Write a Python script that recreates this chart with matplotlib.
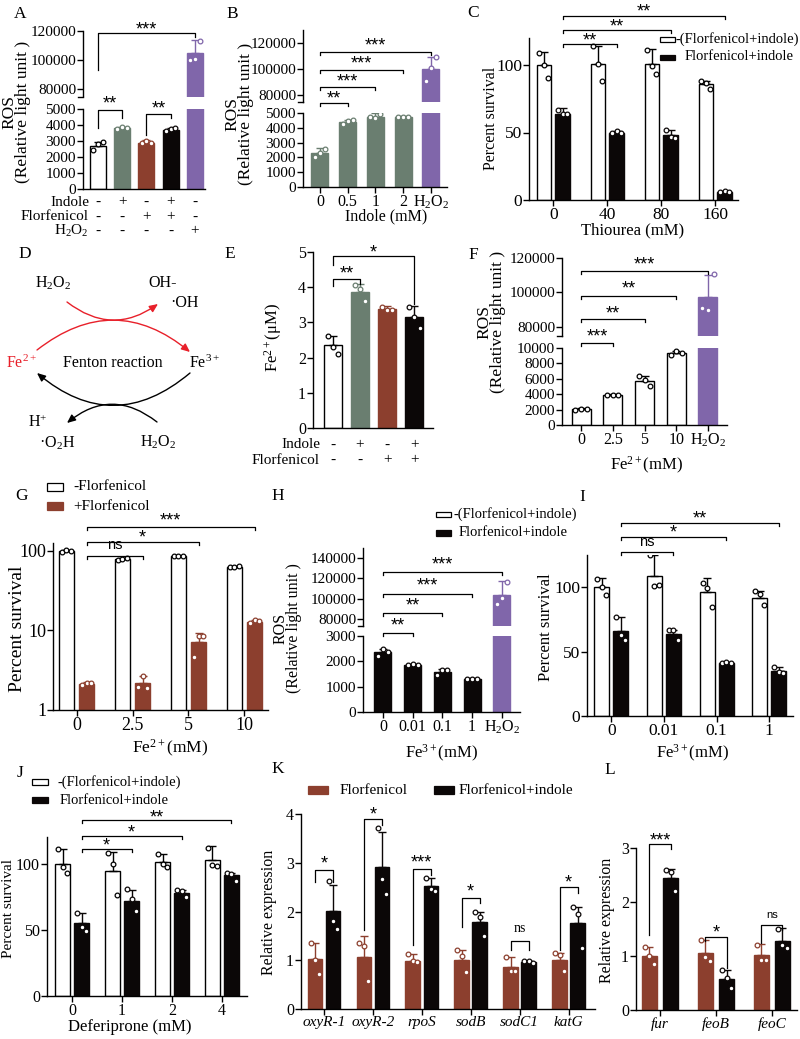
import numpy as np
import matplotlib
matplotlib.use("Agg")
import matplotlib.pyplot as plt
from matplotlib import transforms as mtrans
from matplotlib.patches import FancyArrowPatch, Rectangle
from matplotlib.lines import Line2D
from matplotlib.ticker import NullLocator

# ---------------- colours ----------------
GREEN = '#6a7e70'
BROWN = '#8c3f2e'
PURPLE = '#8066aa'
BLACK = '#0b0707'
RED = '#e8202a'

# ---------------- data ----------------
# A
A_indole = ['-', '+', '-', '+', '-']
A_flor = ['-', '-', '+', '+', '-']
A_h2o2 = ['-', '-', '-', '-', '+']
A_vals = [2700, 3800, 2900, 3700, 104700]
A_err = [2950, 3860, 3060, 3790, 114000]
A_pts = [[2450, 2800, 2950], [3780, 3850, 3830], [2850, 3000, 2880],
         [3650, 3750, 3790], [100000, 101000, 113000]]
# B
B_labels = ['0', '0.5', '1', '2', 'H$_2$O$_2$']
B_vals = [2300, 4400, 4750, 4700, 100000]
B_err = [2650, 4550, 4980, 4780, 109000]
B_pts = [[2050, 2300, 2600], [4250, 4450, 4500], [4700, 4650, 4950],
         [4700, 4750, 4720], [91000, 101000, 109000]]
# C
C_labels = ['0', '40', '80', '160']
C_ctrl = [100, 101, 101, 86]
C_ctrl_err = [110, 114, 112, 88]
C_ctrl_pts = [[109, 100, 90], [114, 101, 88], [111, 99, 93], [88, 87, 82]]
C_trt = [64, 50, 48, 6]
C_trt_err = [68, 51, 52, 7]
C_trt_pts = [[67, 64, 64], [50, 51, 50], [52, 47, 46], [6, 7, 6]]
# E
E_indole = ['-', '+', '-', '+']
E_flor = ['-', '-', '+', '+']
E_vals = [2.35, 3.85, 3.38, 3.15]
E_err = [2.62, 4.1, 3.46, 3.46]
E_pts = [[2.6, 2.3, 2.1], [4.05, 3.95, 3.6], [3.45, 3.35, 3.35], [3.45, 3.15, 2.85]]
# F
F_labels = ['0', '2.5', '5', '10', 'H$_2$O$_2$']
F_vals = [2050, 3900, 5700, 9300, 97500]
F_err = [2150, 4000, 6400, 9650, 110000]
F_pts = [[2000, 2100, 2050], [3850, 3950, 3900], [6300, 5800, 5000],
         [9100, 9600, 9300], [91000, 90000, 111000]]
# G
G_labels = ['0', '2.5', '5', '10']
G_ctrl = [100, 80, 86, 63]
G_ctrl_err = [103, 81, 87, 64]
G_ctrl_pts = [[97, 103, 100], [78, 80, 81], [86, 87, 86], [63, 63, 64]]
G_trt = [2.15, 2.2, 7.2, 12.8]
G_trt_err = [2.25, 2.7, 9.3, 13.6]
G_trt_pts = [[2.05, 2.2, 2.2], [1.95, 2.7, 1.9], [4.6, 8.5, 8.5], [12.4, 13.5, 13.0]]
# H
H_labels = ['0', '0.01', '0.1', '1', 'H$_2$O$_2$']
H_vals = [2350, 1870, 1580, 1300, 103500]
H_err = [2480, 1910, 1700, 1330, 117000]
H_pts = [[2200, 2500, 2350], [1850, 1900, 1870], [1450, 1650, 1650],
         [1300, 1320, 1290], [94500, 100500, 116000]]
# I
I_labels = ['0', '0.01', '0.1', '1']
I_ctrl = [100, 109, 96, 92]
I_ctrl_err = [107, 125, 107, 97]
I_ctrl_pts = [[106, 100, 94], [125, 101, 102], [103, 99, 85], [97, 95, 86]]
I_trt = [66, 64, 41, 35]
I_trt_err = [77, 67, 42, 38]
I_trt_pts = [[77, 63, 59], [67, 67, 59], [41, 42, 41], [38, 34, 33]]
# J
J_labels = ['0', '1', '2', '4']
J_ctrl = [100, 94, 101, 103]
J_ctrl_err = [111, 109, 107, 113]
J_ctrl_pts = [[111, 97, 93], [108, 100, 76], [107, 100, 97], [112, 99, 98]]
J_trt = [55, 72, 78, 91]
J_trt_err = [63, 80, 80, 93]
J_trt_pts = [[63, 52, 49], [81, 73, 64], [80, 79, 75], [93, 92, 87]]
# K
K_genes = ['oxyR-1', 'oxyR-2', 'rpoS', 'sodB', 'sodC1', 'katG']
K_flor = [1.03, 1.07, 0.99, 1.01, 0.87, 1.0]
K_flor_err = [1.36, 1.5, 1.13, 1.22, 1.06, 1.15]
K_flor_pts = [[1.36, 1.0, 0.72], [1.35, 1.3, 0.57], [1.13, 0.98, 0.97],
              [1.22, 1.08, 0.75], [1.06, 0.77, 0.78], [1.15, 1.1, 0.77]]
K_ind = [2.02, 2.91, 2.52, 1.79, 0.96, 1.76]
K_ind_err = [2.55, 3.63, 2.68, 2.0, 0.99, 2.1]
K_ind_pts = [[2.62, 1.8, 1.65], [3.72, 2.66, 2.35], [2.68, 2.47, 2.42],
             [2.0, 1.88, 1.5], [0.98, 0.98, 0.94], [2.1, 1.95, 1.25]]
# L
L_genes = ['fur', 'feoB', 'feoC']
L_flor = [1.0, 1.06, 1.01]
L_flor_err = [1.17, 1.3, 1.22]
L_flor_pts = [[1.17, 1.0, 0.85], [1.3, 0.98, 0.9], [1.2, 0.92, 0.92]]
L_ind = [2.45, 0.58, 1.27]
L_ind_err = [2.62, 0.75, 1.52]
L_ind_pts = [[2.6, 2.55, 2.2], [0.75, 0.6, 0.4], [1.5, 1.2, 1.15]]

# ---------------- figure ----------------
W, H = 800, 1039
plt.rcParams.update({
    'font.family': ['Liberation Serif', 'DejaVu Serif'],
    'mathtext.fontset': 'custom',
    'mathtext.rm': 'Liberation Serif',
    'mathtext.it': 'Liberation Serif:italic',
    'mathtext.bf': 'Liberation Serif:bold',
    'axes.linewidth': 1.0,
})
SANS = 'Liberation Sans'
SERIF = 'Liberation Serif'
fig = plt.figure(figsize=(W / 100, H / 100), dpi=100)
fig.patch.set_facecolor('white')
ov = fig.add_axes([0, 0, 1, 1])
ov.set_xlim(0, W)
ov.set_ylim(H, 0)
ov.axis('off')
ov.set_zorder(10)


def px_axes(l, t, r, b):
    return fig.add_axes([l / W, 1 - b / H, (r - l) / W, (b - t) / H])


def style(ax, fs):
    ax.spines['top'].set_visible(False)
    ax.spines['right'].set_visible(False)
    ax.tick_params(axis='both', direction='out', length=4, width=1.0,
                   labelsize=fs, pad=1.0, colors='black')
    ax.patch.set_alpha(0)
    for lbl in ax.get_xticklabels() + ax.get_yticklabels():
        lbl.set_family(SERIF)


def yt(ax, ticks):
    ax.set_yticks(ticks)
    ax.set_yticklabels([str(int(t)) for t in ticks], family=SERIF)


def draw_bars(ax, xs, vals, errs, pts, faces, edges, width, ms=3.4):
    for x, v, e, p, fc, ec in zip(xs, vals, errs, pts, faces, edges):
        ax.bar(x, v, width, color=fc, edgecolor=ec, linewidth=1.0, zorder=2)
        ax.errorbar([x], [v], yerr=[[0], [e - v]], fmt='none', ecolor=ec,
                    elinewidth=1.0, capsize=3, capthick=1.0, zorder=3)
        offs = np.linspace(-0.3, 0.3, len(p)) * width
        ax.plot(x + offs, p, 'o', ms=ms, mfc='white', mec=ec, mew=0.9,
                zorder=4, ls='none')


def T(x, y, s, fs=11, ha='center', va='center', **kw):
    ov.text(x, y, s, fontsize=fs, ha=ha, va=va, **kw)


def sig(ax, x1, x2, y, text, tc, l1=None, l2=None, fs=13, leg=3, fam=SANS):
    tr = mtrans.blended_transform_factory(ax.transData, ov.transData)
    ya = y + leg if l1 is None else l1
    yb = y + leg if l2 is None else l2
    fig.add_artist(Line2D([x1, x1, x2, x2], [ya, y, y, yb], transform=tr,
                          color='black', lw=0.9))
    em = fs * 100 / 72
    k = 0.26 if text == 'ns' else 0.58
    ov.text((x1 + x2) / 2, tc + k * em, text, transform=tr, fontsize=fs,
            family=fam, ha='center', va='baseline')


def stub(x, y):
    ov.plot([x - 5, x], [y, y], color='black', lw=1.0)


def leg_item(x, y, fc, ec, label, tx, w=15, h=6, fs=10.5):
    ov.add_patch(Rectangle((x - w / 2, y - h / 2), w, h, facecolor=fc,
                           edgecolor=ec, lw=0.9))
    T(tx, y, label, fs=fs, ha='left')


def table(ax, xs, rows, right, fs=11):
    tr = mtrans.blended_transform_factory(ax.transData, ov.transData)
    for ry, name, marks in rows:
        T(right, ry, name, fs=fs, ha='right')
        for xi, m in zip(xs, marks):
            ov.text(xi, ry, m, transform=tr, fontsize=fs, ha='center', va='center')


def ros_label(x, y, fs):
    T(x, y, 'ROS\n(Relative light unit )', fs=fs, rotation=90,
      linespacing=0.78, multialignment='center')


# ---------------- A ----------------
xA = np.arange(len(A_vals))
A_face = ['white', GREEN, BROWN, BLACK, PURPLE]
A_edge = ['black', GREEN, BROWN, BLACK, PURPLE]
aU = px_axes(83, 31, 205, 96.5)
aL = px_axes(83, 109, 205, 189)
for ax in (aU, aL):
    draw_bars(ax, xA, A_vals, A_err, A_pts, A_face, A_edge, 0.66)
    ax.set_xlim(-0.62, 4.42)
    ax.set_xticks([])
aU.set_ylim(75000, 120000)
yt(aU, [80000, 100000, 120000])
aU.spines['bottom'].set_visible(False)
aL.set_ylim(0, 5000)
yt(aL, range(0, 5001, 1000))
for ax in (aU, aL):
    style(ax, 11)
stub(83, 96.5)
table(aL, xA, [(202, 'Indole', A_indole), (217, 'Florfenicol', A_flor),
               (231, 'H$_2$O$_2$', A_h2o2)], 89)
ros_label(16, 112, 12.5)
sig(aL, 0, 4, 33, '***', 24, l1=70, l2=37)
sig(aL, 0, 1, 110, '**', 98, l1=128, l2=118)
sig(aL, 2, 3, 114, '**', 103, l1=135, l2=118)

# ---------------- B ----------------
xB = np.arange(len(B_vals))
B_face = [GREEN] * 4 + [PURPLE]
bU = px_axes(303, 30, 447, 101.5)
bL = px_axes(303, 113, 447, 187)
for ax in (bU, bL):
    draw_bars(ax, xB, B_vals, B_err, B_pts, B_face, B_face, 0.61)
    ax.set_xlim(-0.61, 4.58)
bU.set_ylim(75000, 130000)
yt(bU, [80000, 100000, 120000])
bU.spines['bottom'].set_visible(False)
bU.set_xticks([])
bL.set_ylim(0, 5000)
yt(bL, range(0, 5001, 1000))
bL.set_xticks(xB)
bL.set_xticklabels(B_labels)
for ax in (bU, bL):
    style(ax, 11)
bL.tick_params(axis='x', labelsize=11.5)
stub(303, 101.5)
ros_label(239, 114, 12.5)
T(386, 216, 'Indole (mM)', fs=11.5)
sig(bL, 0, 4, 52, '***', 40)
sig(bL, 0, 3, 70, '***', 58)
sig(bL, 0, 2, 87, '***', 76)
sig(bL, 0, 1, 103, '**', 93)

# ---------------- C ----------------
xC = np.arange(len(C_labels))
oC, wC = 0.175, 0.27
cA = px_axes(529, 38, 738, 200)
draw_bars(cA, xC - oC, C_ctrl, C_ctrl_err, C_ctrl_pts, ['white'] * 4, ['black'] * 4, wC)
draw_bars(cA, xC + oC, C_trt, C_trt_err, C_trt_pts, [BLACK] * 4, [BLACK] * 4, wC)
cA.set_xlim(-0.45, 3.42)
cA.set_ylim(0, 120)
yt(cA, [0, 50, 100])
cA.set_xticks(xC)
cA.set_xticklabels(C_labels)
style(cA, 12.5)
T(491, 118, 'Percent survival', fs=11.5, rotation=90)
T(633, 230, 'Thiourea (mM)', fs=12)
sig(cA, oC, 1 + oC, 44, '**', 35)
sig(cA, oC, 2 + oC, 30, '**', 21)
sig(cA, oC, 3 + oC, 16, '**', 6)
leg_item(667, 39, 'white', 'black', '-(Florfenicol+indole)', 676, h=5)
leg_item(667, 57, BLACK, BLACK, 'Florfenicol+indole', 685, h=5)

# ---------------- D (diagram) ----------------
T(53, 283, 'H$_2$O$_2$', fs=11.5)
T(163, 283, 'OH-', fs=11.5)
T(185, 303, '·OH', fs=11.5)
T(22, 363, 'Fe$^{2+}$', fs=11.5, color=RED)
T(113, 363, 'Fenton reaction', fs=11.5)
T(205, 363, 'Fe$^{3+}$', fs=11.5)
T(38, 423, 'H$^{+}$', fs=11.5)
T(57, 443, '·O$_2$H', fs=11.5)
T(158, 442, 'H$_2$O$_2$', fs=11.5)
for pa, pb, rad, col in [((67, 302), (158, 304), 0.37, RED),
                         ((37, 350), (190, 352), -0.40, RED),
                         ((190, 373), (37, 373), -0.42, 'black'),
                         ((157, 422), (67, 423), 0.40, 'black')]:
    ov.add_patch(FancyArrowPatch(pa, pb, connectionstyle=f'arc3,rad={rad}',
                                 arrowstyle='-|>,head_length=5,head_width=2.2',
                                 color=col, lw=1.0, shrinkA=0, shrinkB=0,
                                 mutation_scale=1))

# ---------------- E ----------------
xE = np.arange(len(E_vals))
eA = px_axes(313, 252, 433, 428)
draw_bars(eA, xE, E_vals, E_err, E_pts, ['white', GREEN, BROWN, BLACK],
          ['black', GREEN, BROWN, BLACK], 0.67)
eA.set_xlim(-0.74, 3.7)
eA.set_ylim(0, 5)
yt(eA, range(0, 6))
eA.set_xticks([])
style(eA, 11.5)
table(eA, xE, [(445, 'Indole', E_indole), (460, 'Florfenicol', E_flor)], 320)
T(273, 337, 'Fe$^{2+}$(μM)', fs=12, rotation=90)
sig(eA, 0, 1, 279, '**', 268, l1=286, l2=284)
sig(eA, 0, 3, 256, '*', 247, l1=265, l2=304)

# ---------------- F ----------------
xF = np.arange(len(F_vals))
F_face = ['white'] * 4 + [PURPLE]
F_edge = ['black'] * 4 + [PURPLE]
fU = px_axes(562, 258, 727, 335.6)
fL = px_axes(562, 348, 727, 425)
for ax in (fU, fL):
    draw_bars(ax, xF, F_vals, F_err, F_pts, F_face, F_edge, 0.6)
    ax.set_xlim(-0.6, 4.6)
fU.set_ylim(75000, 120000)
yt(fU, [80000, 100000, 120000])
fU.spines['bottom'].set_visible(False)
fU.set_xticks([])
fL.set_ylim(0, 10000)
yt(fL, range(0, 10001, 2000))
fL.set_xticks(xF)
fL.set_xticklabels(F_labels)
for ax in (fU, fL):
    style(ax, 11)
fL.tick_params(axis='x', labelsize=11.5)
stub(562, 335.6)
ros_label(491, 322, 12.5)
T(647, 465, 'Fe$^{2+}$(mM)', fs=12)
sig(fL, 0, 4, 271, '***', 259)
sig(fL, 0, 3, 296, '**', 283)
sig(fL, 0, 2, 319, '**', 308)
sig(fL, 0, 1, 343, '***', 331)

# ---------------- G ----------------
xG = np.arange(len(G_labels))
oG, wG = 0.18, 0.27
gA = px_axes(53, 543, 268, 710)
gA.set_yscale('log')
draw_bars(gA, xG - oG, G_ctrl, G_ctrl_err, G_ctrl_pts, ['white'] * 4, ['black'] * 4, wG)
draw_bars(gA, xG + oG, G_trt, G_trt_err, G_trt_pts, [BROWN] * 4, [BROWN] * 4, wG)
gA.set_xlim(-0.42, 3.42)
gA.set_ylim(1, 126)
gA.set_yticks([1, 10, 100])
gA.set_yticklabels(['1', '10', '100'])
gA.yaxis.set_minor_locator(NullLocator())
gA.set_xticks(xG)
gA.set_xticklabels(G_labels)
style(gA, 13)
T(18, 629, 'Percent survival', fs=14, rotation=90)
T(170, 748, 'Fe$^{2+}$(mM)', fs=12.5)
leg_item(55, 487, 'white', 'black', '-Florfenicol', 73, w=16, h=8, fs=11)
leg_item(55, 506, BROWN, BROWN, '+Florfenicol', 73, w=16, h=8, fs=11)
sig(gA, oG, 3 + oG, 527, '***', 515)
sig(gA, oG, 2 + oG, 542, '*', 532)
sig(gA, oG, 1 + oG, 556, 'ns', 545, fs=10.5)

# ---------------- H ----------------
xH = np.arange(len(H_vals))
H_face = [BLACK] * 4 + [PURPLE]
hU = px_axes(363, 547.8, 520, 626.1)
hL = px_axes(363, 636, 520, 712)
for ax in (hU, hL):
    draw_bars(ax, xH, H_vals, H_err, H_pts, H_face, H_face, 0.57)
    ax.set_xlim(-0.67, 4.61)
hU.set_ylim(73000, 150000)
yt(hU, [80000, 100000, 120000, 140000])
hU.spines['bottom'].set_visible(False)
hU.set_xticks([])
hL.set_ylim(0, 3000)
yt(hL, range(0, 3001, 1000))
hL.set_xticks(xH)
hL.set_xticklabels(H_labels)
for ax in (hU, hL):
    style(ax, 11)
hL.tick_params(axis='x', labelsize=11.5)
stub(363, 626.1)
ros_label(287, 628, 11.5)
T(442, 753, 'Fe$^{3+}$(mM)', fs=12)
sig(hL, 0, 4, 572, '***', 559)
sig(hL, 0, 3, 594, '***', 580)
sig(hL, 0, 2, 613, '**', 600)
sig(hL, 0, 1, 633, '**', 620)
leg_item(443, 514, 'white', 'black', '-(Florfenicol+indole)', 453, h=5)
leg_item(443, 533, BLACK, BLACK, 'Florfenicol+indole', 459, h=6)

# ---------------- I ----------------
xI = np.arange(len(I_labels))
oI, wI = 0.18, 0.285
iA = px_axes(587, 555, 793, 716)
draw_bars(iA, xI - oI, I_ctrl, I_ctrl_err, I_ctrl_pts, ['white'] * 4, ['black'] * 4, wI)
draw_bars(iA, xI + oI, I_trt, I_trt_err, I_trt_pts, [BLACK] * 4, [BLACK] * 4, wI)
iA.set_xlim(-0.46, 3.45)
iA.set_ylim(0, 125)
yt(iA, [0, 50, 100])
iA.set_xticks(xI)
iA.set_xticklabels(I_labels)
style(iA, 12.5)
T(546, 627, 'Percent survival', fs=12, rotation=90)
T(693, 753, 'Fe$^{3+}$(mM)', fs=12)
sig(iA, oI, 3 + oI, 523, '**', 513)
sig(iA, oI, 2 + oI, 537, '*', 527)
sig(iA, oI, 1 + oI, 552, 'ns', 542, fs=10.5)

# ---------------- J ----------------
xJ = np.arange(len(J_labels))
oJ, wJ = 0.19, 0.3
jA = px_axes(47, 837, 247, 996)
draw_bars(jA, xJ - oJ, J_ctrl, J_ctrl_err, J_ctrl_pts, ['white'] * 4, ['black'] * 4, wJ)
draw_bars(jA, xJ + oJ, J_trt, J_trt_err, J_trt_pts, [BLACK] * 4, [BLACK] * 4, wJ)
jA.set_xlim(-0.5, 3.5)
jA.set_ylim(0, 120)
yt(jA, [0, 50, 100])
jA.set_xticks(xJ)
jA.set_xticklabels(J_labels)
style(jA, 11.5)
T(9, 908, 'Percent survival', fs=11, rotation=90)
T(130, 1027, 'Deferiprone (mM)', fs=12)
leg_item(40, 782, 'white', 'black', '-(Florfenicol+indole)', 57, w=16, h=6)
leg_item(40, 800, BLACK, BLACK, 'Florfenicol+indole', 60, w=16, h=6)
sig(jA, oJ, 3 + oJ, 820, '**', 812)
sig(jA, oJ, 2 + oJ, 836, '*', 827)
sig(jA, oJ, 1 + oJ, 849, '*', 840)

# ---------------- K ----------------
xK = np.arange(len(K_genes))
oK, wK = 0.185, 0.3
kA = px_axes(301, 814, 595, 1009)
draw_bars(kA, xK - oK, K_flor, K_flor_err, K_flor_pts, [BROWN] * 6, [BROWN] * 6, wK)
draw_bars(kA, xK + oK, K_ind, K_ind_err, K_ind_pts, [BLACK] * 6, [BLACK] * 6, wK)
kA.set_xlim(-0.47, 5.54)
kA.set_ylim(0, 4)
yt(kA, range(0, 5))
kA.set_xticks(xK)
kA.set_xticklabels(K_genes)
style(kA, 11.5)
for lbl in kA.get_xticklabels():
    lbl.set_style('italic')
    lbl.set_fontsize(11)
T(269, 912, 'Relative expression', fs=11.5, rotation=90)
leg_item(318, 790, BROWN, BROWN, 'Florfenicol', 340, w=20, h=8, fs=11)
leg_item(444, 790, BLACK, BLACK, 'Florfenicol+indole', 459, w=20, h=8, fs=11)
sig(kA, -oK, oK, 870, '*', 858, l1=882, l2=882)
sig(kA, 1 - oK, 1 + oK, 819, '*', 809, l1=930, l2=825)
sig(kA, 2 - oK, 2 + oK, 869, '***', 857, l1=945, l2=875)
sig(kA, 3 - oK, 3 + oK, 898, '*', 886, l1=927, l2=903)
sig(kA, 4 - oK, 4 + oK, 941, 'ns', 928, l1=950, l2=950, fs=10, fam=SERIF)
sig(kA, 5 - oK, 5 + oK, 887, '*', 877, l1=950, l2=893)

# ---------------- L ----------------
xL = np.arange(len(L_genes))
oL, wL = 0.19, 0.27
lA = px_axes(636, 848, 797, 1010)
draw_bars(lA, xL - oL, L_flor, L_flor_err, L_flor_pts, [BROWN] * 3, [BROWN] * 3, wL)
draw_bars(lA, xL + oL, L_ind, L_ind_err, L_ind_pts, [BLACK] * 3, [BLACK] * 3, wL)
lA.set_xlim(-0.43, 2.45)
lA.set_ylim(0, 3)
yt(lA, range(0, 4))
lA.set_xticks(xL)
lA.set_xticklabels(L_genes)
style(lA, 11.5)
for lbl in lA.get_xticklabels():
    lbl.set_style('italic')
    lbl.set_fontsize(11)
T(607, 920, 'Relative expression', fs=11.5, rotation=90)
sig(lA, -oL, oL, 844, '***', 835, l1=935, l2=849)
sig(lA, 1 - oL, 1 + oL, 937, '*', 927, l1=941, l2=968)
sig(lA, 2 - oL, 2 + oL, 925, 'ns', 915, l1=943, l2=930, fs=8)

# ---------------- panel letters ----------------
for lab, x, y in [('A', 20, 14), ('B', 232, 14), ('C', 473, 13), ('D', 25, 254),
                  ('E', 230, 254), ('F', 473, 255), ('G', 22, 496), ('H', 278, 496),
                  ('I', 582, 497), ('J', 20, 773), ('K', 278, 769), ('L', 610, 770)]:
    T(x, y, lab, fs=12.5)

fig.savefig('out.png', dpi=100, facecolor='white')
